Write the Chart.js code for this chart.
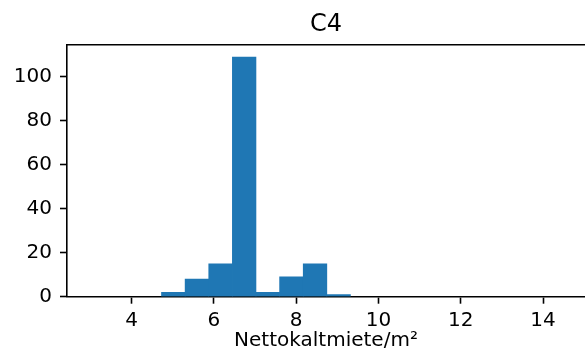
<!DOCTYPE html>
<html>
<head>
<meta charset="utf-8">
<script src="https://cdn.jsdelivr.net/npm/chart.js@4/dist/chart.umd.min.js"></script>
<style>
  html, body { margin: 0; padding: 0; background: #fff; overflow: hidden; }
  canvas { display: block; }
</style>
</head>
<body>
<canvas id="histChart" width="585" height="363"></canvas>
<script>
// bin edges (Nettokaltmiete/m²) and counts
const binEdges = [4.729, 5.303, 5.877, 6.451, 7.025, 7.599, 8.173, 8.747, 9.320];
const binCounts = [2, 8, 15, 109, 2, 9, 15, 1];
const xTicks = [4, 6, 8, 10, 12, 14];
const yTicks = [0, 20, 40, 60, 80, 100];
const xRange = [2.433, 15.02];
const yRange = [0, 114.45];
const chartTitle = 'C4';
const xLabel = 'Nettokaltmiete/m²';

const histData = binCounts.map((c, i) => ({ x: (binEdges[i] + binEdges[i + 1]) / 2, y: c }));

Chart.defaults.font.family = 'DejaVu Sans';
Chart.defaults.color = '#000';

const spine = { display: true, color: '#000', width: 1.6 };
const tickMarks = { display: true, drawOnChartArea: false, drawTicks: true, tickLength: 7, tickWidth: 1.6, tickColor: '#000', offset: false };

new Chart(document.getElementById('histChart').getContext('2d'), {
    type: 'bar',
    data: {
        datasets: [{
            data: histData,
            backgroundColor: '#1f77b4',
            borderWidth: 0,
            barPercentage: 1,
            categoryPercentage: 1,
            xAxisID: 'x',
            yAxisID: 'y'
        }]
    },
    options: {
        responsive: false,
        animation: false,
        devicePixelRatio: 1,
        layout: { padding: 0 },
        plugins: {
            legend: { display: false },
            tooltip: { enabled: false }
        },
        scales: {
            x: {
                type: 'linear',
                position: 'bottom',
                min: xRange[0],
                max: xRange[1],
                offset: false,
                border: spine,
                grid: tickMarks,
                ticks: { padding: 7, font: { size: 20, lineHeight: 1 }, maxRotation: 0 },
                afterBuildTicks: s => { s.ticks = xTicks.map(v => ({ value: v })); },
                afterFit: s => { s.height = 66.3; },
                title: { display: true, text: xLabel, font: { size: 20, lineHeight: 1 }, padding: { top: 0, bottom: 12 } }
            },
            x2: {
                type: 'linear',
                position: 'top',
                min: xRange[0],
                max: xRange[1],
                offset: false,
                border: spine,
                grid: { display: true, drawOnChartArea: false, drawTicks: false },
                ticks: { display: false },
                afterFit: s => { s.height = 45; },
                title: { display: true, text: chartTitle, font: { size: 24, lineHeight: 1 }, padding: { top: 13, bottom: 0 } }
            },
            y: {
                type: 'linear',
                position: 'left',
                min: yRange[0],
                max: yRange[1],
                border: spine,
                grid: tickMarks,
                ticks: { padding: 8, font: { size: 20, lineHeight: 1 } },
                afterBuildTicks: s => { s.ticks = yTicks.map(v => ({ value: v })); },
                afterFit: s => { s.width = 67; }
            }
        }
    }
});
</script>
</body>
</html>
